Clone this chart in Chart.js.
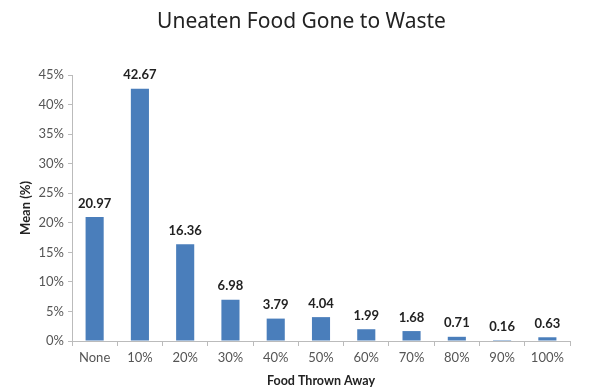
<!DOCTYPE html>
<html>
<head>
<meta charset="utf-8">
<script src="https://cdn.jsdelivr.net/npm/chart.js@4.4.1/dist/chart.umd.min.js"></script>
<style>
  html, body { margin: 0; padding: 0; background: #fff; }
  #wrap { width: 603px; height: 392px; position: relative; }
</style>
</head>
<body>
<div id="wrap"><canvas id="wasteChart"></canvas></div>
<script>
const chartTitle = "Uneaten Food Gone to Waste";
const categories = ["None", "10%", "20%", "30%", "40%", "50%", "60%", "70%", "80%", "90%", "100%"];
const meanValues = [20.97, 42.67, 16.36, 6.98, 3.79, 4.04, 1.99, 1.68, 0.71, 0.16, 0.63];
const yTicks = [0, 5, 10, 15, 20, 25, 30, 35, 40, 45];

// value labels above each bar, plus the title centred on the whole canvas
const barLabels = {
  id: "barLabels",
  afterDatasetsDraw(chart) {
    const ctx = chart.ctx;
    const meta = chart.getDatasetMeta(0);
    ctx.save();
    ctx.font = "bold 13px Lato";
    ctx.fillStyle = "#222";
    ctx.textAlign = "center";
    ctx.textBaseline = "bottom";
    meta.data.forEach((bar, i) => {
      ctx.fillText(meanValues[i].toFixed(2), bar.x, bar.y - 7);
    });
    ctx.font = "21px 'Noto Sans'";
    ctx.textBaseline = "middle";
    ctx.fillText(chartTitle, chart.width / 2, 22);
    ctx.restore();
  }
};

new Chart(document.getElementById("wasteChart"), {
  type: "bar",
  data: {
    labels: categories,
    datasets: [{
      data: meanValues,
      backgroundColor: "#4a7ebb",
      barPercentage: 0.4,
      categoryPercentage: 1.0
    }]
  },
  options: {
    responsive: true,
    maintainAspectRatio: false,
    animation: false,
    layout: { padding: { left: 14, right: 33, top: 75, bottom: 0 } },
    plugins: {
      legend: { display: false },
      tooltip: { enabled: false },
      title: { display: false }
    },
    scales: {
      x: {
        afterFit: s => { s.height = 51; },
        grid: { offset: true, drawOnChartArea: false, tickLength: 5, color: "#bbb" },
        border: { color: "#bbb" },
        ticks: { color: "#555", font: { family: "Lato", size: 13 }, padding: 4, maxRotation: 0, autoSkip: false },
        title: { display: true, text: "Food Thrown Away", color: "#222", font: { family: "Lato", size: 12.5, weight: "bold" }, padding: { top: 1 } }
      },
      y: {
        min: 0,
        max: 45,
        afterFit: s => { s.width = 58; },
        afterBuildTicks: s => { s.ticks = yTicks.map(v => ({ value: v })); },
        grid: { drawOnChartArea: false, tickLength: 4, color: "#bbb" },
        border: { color: "#bbb" },
        ticks: { color: "#555", font: { family: "Lato", size: 13 }, padding: 4, callback: v => v + "%" },
        title: { display: true, text: "Mean (%)", color: "#222", font: { family: "Lato", size: 13, weight: "bold" }, padding: { bottom: 2 } }
      }
    }
  },
  plugins: [barLabels]
});
</script>
</body>
</html>
